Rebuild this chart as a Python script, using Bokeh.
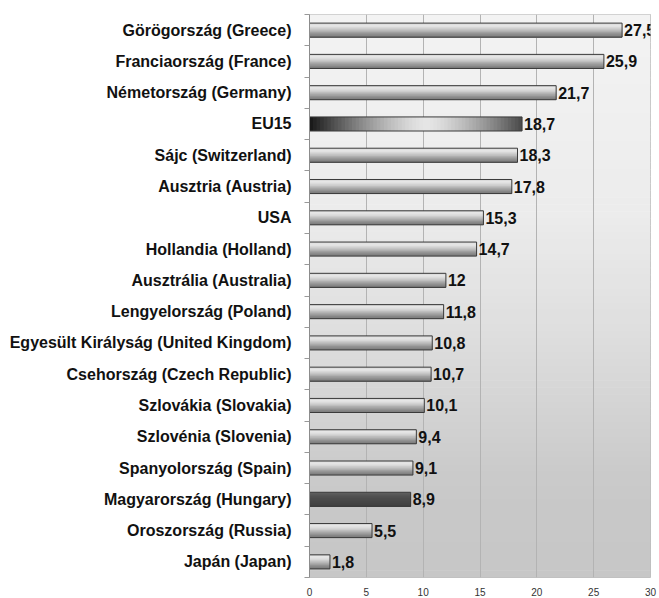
from bokeh.plotting import figure
from bokeh.models import Range1d, FixedTicker, ColumnDataSource, LabelSet
from bokeh.core.properties import value
from bokeh.embed import file_html
from bokeh.resources import INLINE

# ---- data (top to bottom) ----
countries = [
    "Görögország (Greece)", "Franciaország (France)", "Németország (Germany)", "EU15",
    "Sájc (Switzerland)", "Ausztria (Austria)", "USA", "Hollandia (Holland)",
    "Ausztrália (Australia)", "Lengyelország (Poland)", "Egyesült Királyság (United Kingdom)",
    "Csehország (Czech Republic)", "Szlovákia (Slovakia)", "Szlovénia (Slovenia)",
    "Spanyolország (Spain)", "Magyarország (Hungary)", "Oroszország (Russia)", "Japán (Japan)",
]
values = [27.5, 25.9, 21.7, 18.7, 18.3, 17.8, 15.3, 14.7, 12, 11.8, 10.8, 10.7, 10.1, 9.4, 9.1, 8.9, 5.5, 1.8]
value_labels = ["27,5", "25,9", "21,7", "18,7", "18,3", "17,8", "15,3", "14,7", "12", "11,8",
                "10,8", "10,7", "10,1", "9,4", "9,1", "8,9", "5,5", "1,8"]
x_ticks = [0, 5, 10, 15, 20, 25, 30]

n = len(countries)
ys = [n - 1 - i for i in range(n)]

FONT = "Liberation Sans"

p = figure(width=659, height=598, output_backend="svg", toolbar_location=None,
           x_range=Range1d(0, 30), y_range=Range1d(-0.5, n - 0.5),
           min_border_left=309, min_border_right=9, min_border_top=14, min_border_bottom=21)
p.background_fill_color = "#ffffff"
p.border_fill_color = "#ffffff"
p.outline_line_color = "#bdbdbd"

# ---- background vertical gradient (styling) ----
stops = [(0.0, 243), (0.35, 236), (0.6, 220), (0.8, 203), (0.88, 200), (1.0, 199)]
def bg_level(f):
    for (f0, c0), (f1, c1) in zip(stops[:-1], stops[1:]):
        if f0 <= f <= f1:
            return c0 + (c1 - c0) * (f - f0) / (f1 - f0)
    return stops[-1][1]
NB = 80
top_y = n - 0.5
span = n
bt, bb, bc = [], [], []
for k in range(NB):
    f = (k + 0.5) / NB
    g = int(round(bg_level(f)))
    bt.append(top_y - span * k / NB + 0.01)
    bb.append(top_y - span * (k + 1) / NB - 0.01)
    bc.append("#%02x%02x%02x" % (g, g, g))
r = p.quad(left=0, right=30, top=bt, bottom=bb, fill_color=bc, line_color=None)
r.level = "image"

# ---- grid ----
p.xgrid.ticker = FixedTicker(ticks=x_ticks[1:-1])
p.xgrid.grid_line_color = "#b3b3b3"
p.ygrid.grid_line_color = None

# ---- bars ----
H = 0.45
normal_prof = [215, 230, 226, 216, 204, 190, 175, 160, 146, 134, 124]
dark_prof = [96, 90, 84, 80, 77, 74, 72, 70, 68, 66, 64]
K = len(normal_prof)
for i, (v, y, c) in enumerate(zip(values, ys, countries)):
    if c == "EU15":
        NS = 60
        lefts, rights, cols = [], [], []
        for s in range(NS):
            t = (s + 0.5) / NS
            d = abs(t - 0.55) / 0.55
            g = int(22 + 208 * max(0.0, 1 - d ** 1.4))
            lefts.append(v * s / NS)
            rights.append(min(v, v * (s + 1) / NS + v * 0.004))
            cols.append("#%02x%02x%02x" % (g, g, g))
        p.quad(left=lefts, right=rights, top=y + H / 2, bottom=y - H / 2,
               fill_color=cols, line_color=None)
    else:
        prof = dark_prof if c.startswith("Magyar") else normal_prof
        for k in range(K):
            top = y + H / 2 - H * k / K
            g = prof[k]
            p.quad(left=0, right=v, top=top, bottom=y - H / 2,
                   fill_color="#%02x%02x%02x" % (g, g, g), line_color=None)
p.hbar(y=ys, left=0, right=values, height=H, fill_color=None, line_color="#3a3a3a", line_width=1)

# ---- value labels ----
src = ColumnDataSource(dict(x=values, y=ys, t=value_labels))
p.add_layout(LabelSet(x="x", y="y", text="t", source=src, x_offset=2,
                      text_baseline="middle", text_align="left",
                      text_font=value(FONT), text_font_style="bold", text_font_size="16px",
                      text_color="#111111"))

# ---- axes ----
yax = p.yaxis[0]
yax.ticker = FixedTicker(ticks=ys, minor_ticks=[k - 0.5 for k in range(n + 1)])
yax.major_label_overrides = {y: c for y, c in zip(ys, countries)}
yax.major_tick_out = 0
yax.major_tick_in = 0
yax.minor_tick_out = 5
yax.minor_tick_in = 0
yax.minor_tick_line_color = "#999999"
yax.axis_line_color = "#8c8c8c"
yax.major_label_standoff = 13
yax.major_label_text_font = FONT
yax.major_label_text_font_style = "bold"
yax.major_label_text_font_size = "16px"
yax.major_label_text_color = "#111111"

xax = p.xaxis[0]
xax.ticker = FixedTicker(ticks=x_ticks)
xax.major_tick_out = 0
xax.major_tick_in = 0
xax.minor_tick_out = 0
xax.minor_tick_in = 0
xax.axis_line_color = None
xax.major_label_standoff = 10
xax.major_label_text_font = FONT
xax.major_label_text_font_size = "10px"
xax.major_label_text_color = "#333333"

open("out.html", "w").write(file_html(p, INLINE))
